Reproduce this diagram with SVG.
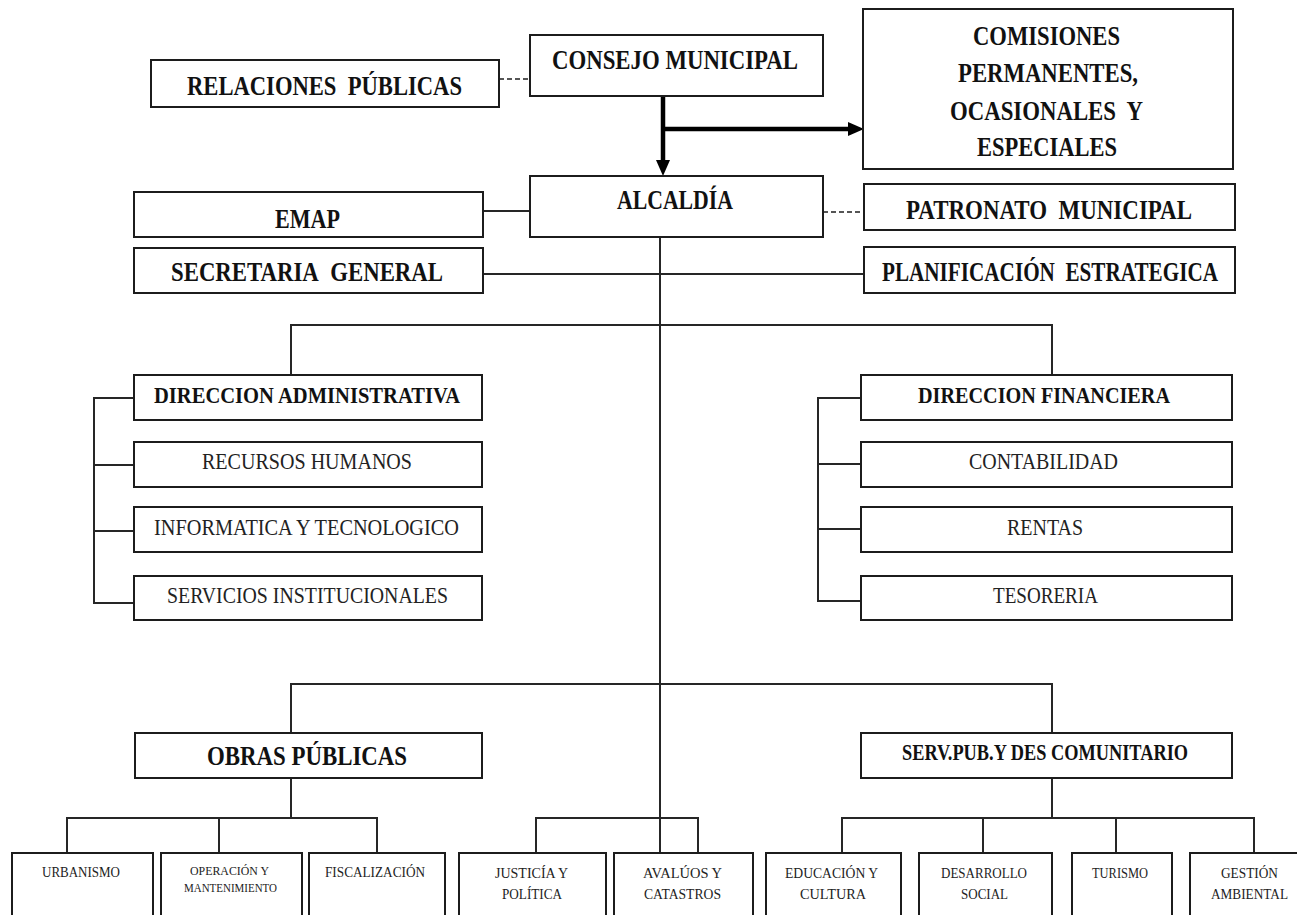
<svg xmlns="http://www.w3.org/2000/svg" width="1297" height="915" viewBox="0 0 1297 915">
  <style>
    .box { fill: #ffffff; stroke: #1c1c1c; stroke-width: 2; }
    .ln { fill: none; stroke: #262626; stroke-width: 2; }
    .dash { fill: none; stroke: #555555; stroke-width: 2; stroke-dasharray: 5 3; }
    .thick { fill: none; stroke: #000000; stroke-width: 4.5; }
    .hb { font-family: "Liberation Serif", "Times New Roman", serif; font-weight: bold; font-size: 27px; fill: #111111; text-anchor: middle; }
    .hm { font-family: "Liberation Serif", "Times New Roman", serif; font-weight: bold; font-size: 24px; fill: #111111; text-anchor: middle; }
    .nm { font-family: "Liberation Serif", "Times New Roman", serif; font-size: 24px; fill: #222222; text-anchor: middle; }
    .sm { font-family: "Liberation Serif", "Times New Roman", serif; font-size: 14px; fill: #222222; text-anchor: middle; }
    .xs { font-family: "Liberation Serif", "Times New Roman", serif; font-size: 12px; fill: #222222; text-anchor: middle; }
  </style>
  <defs>
    <marker id="head" markerUnits="userSpaceOnUse" markerWidth="18" markerHeight="16" refX="0" refY="8" orient="auto">
      <path d="M0,1 L16,8 L0,15 Z" fill="#000000"/>
    </marker>
  </defs>

  <rect width="1297" height="915" fill="#ffffff"/>

  <!-- connectors -->
  <g id="connectors">
    <!-- council to mayor and commissions -->
    <line class="thick" x1="663" y1="96" x2="663" y2="160" marker-end="url(#head)"/>
    <line class="thick" x1="661" y1="129" x2="848" y2="129" marker-end="url(#head)"/>
    <line class="dash" x1="499" y1="79" x2="530" y2="79"/>
    <line class="dash" x1="823" y1="212" x2="864" y2="212"/>
    <line class="ln" x1="483" y1="211" x2="530" y2="211"/>
    <line class="ln" x1="483" y1="274" x2="864" y2="274"/>
    <!-- main trunk -->
    <line class="ln" x1="660" y1="237" x2="660" y2="853"/>
    <!-- directions -->
    <polyline class="ln" points="291,375 291,325 1052,325 1052,375"/>
    <polyline class="ln" points="134,398 94,398 94,603 134,603"/>
    <line class="ln" x1="94" y1="465" x2="134" y2="465"/>
    <line class="ln" x1="94" y1="531" x2="134" y2="531"/>
    <polyline class="ln" points="861,398 818,398 818,601 861,601"/>
    <line class="ln" x1="818" y1="464" x2="861" y2="464"/>
    <line class="ln" x1="818" y1="529" x2="861" y2="529"/>
    <!-- operational areas -->
    <polyline class="ln" points="291,733 291,684 1052,684 1052,733"/>
    <line class="ln" x1="291" y1="778" x2="291" y2="818"/>
    <polyline class="ln" points="67,853 67,818 377,818 377,853"/>
    <line class="ln" x1="219" y1="818" x2="219" y2="853"/>
    <polyline class="ln" points="536,853 536,818 698,818 698,853"/>
    <line class="ln" x1="1052" y1="778" x2="1052" y2="818"/>
    <polyline class="ln" points="842,853 842,818 1254,818 1254,853"/>
    <line class="ln" x1="983" y1="818" x2="983" y2="853"/>
    <line class="ln" x1="1116" y1="818" x2="1116" y2="853"/>
  </g>

  <!-- top level -->
  <g id="relaciones-publicas">
    <rect class="box" x="151" y="60" width="348" height="47"/>
    <text class="hb" x="324.5" y="95" textLength="275" lengthAdjust="spacingAndGlyphs">RELACIONES&#160; PÚBLICAS</text>
  </g>
  <g id="consejo-municipal">
    <rect class="box" x="530" y="35" width="293" height="61"/>
    <text class="hb" x="675" y="69" textLength="246" lengthAdjust="spacingAndGlyphs">CONSEJO MUNICIPAL</text>
  </g>
  <g id="comisiones">
    <rect class="box" x="863" y="9" width="370" height="160"/>
    <text class="hb" x="1046.5" y="45" textLength="147" lengthAdjust="spacingAndGlyphs">COMISIONES</text>
    <text class="hb" x="1048" y="82" textLength="180" lengthAdjust="spacingAndGlyphs">PERMANENTES,</text>
    <text class="hb" x="1046.5" y="120" textLength="193" lengthAdjust="spacingAndGlyphs">OCASIONALES&#160; Y</text>
    <text class="hb" x="1047" y="156" textLength="140" lengthAdjust="spacingAndGlyphs">ESPECIALES</text>
  </g>
  <g id="alcaldia">
    <rect class="box" x="530" y="176" width="293" height="61"/>
    <text class="hb" x="675" y="209" textLength="116" lengthAdjust="spacingAndGlyphs">ALCALDÍA</text>
  </g>
  <g id="emap">
    <rect class="box" x="134" y="192" width="349" height="45"/>
    <text class="hb" x="307.5" y="228" textLength="65" lengthAdjust="spacingAndGlyphs">EMAP</text>
  </g>
  <g id="secretaria-general">
    <rect class="box" x="134" y="248" width="349" height="45"/>
    <text class="hb" x="307" y="281" textLength="272" lengthAdjust="spacingAndGlyphs">SECRETARIA&#160; GENERAL</text>
  </g>
  <g id="patronato-municipal">
    <rect class="box" x="864" y="184" width="371" height="46"/>
    <text class="hb" x="1049" y="219" textLength="286" lengthAdjust="spacingAndGlyphs">PATRONATO&#160; MUNICIPAL</text>
  </g>
  <g id="planificacion-estrategica">
    <rect class="box" x="864" y="247" width="371" height="46"/>
    <text class="hb" x="1050" y="281" font-size="23" textLength="336" lengthAdjust="spacingAndGlyphs">PLANIFICACIÓN&#160; ESTRATEGICA</text>
  </g>

  <!-- administrative direction -->
  <g id="direccion-administrativa">
    <rect class="box" x="134" y="375" width="348" height="45"/>
    <text class="hm" x="307" y="403" textLength="306" lengthAdjust="spacingAndGlyphs">DIRECCION ADMINISTRATIVA</text>
  </g>
  <g id="recursos-humanos">
    <rect class="box" x="134" y="442" width="348" height="45"/>
    <text class="nm" x="307" y="469" textLength="210" lengthAdjust="spacingAndGlyphs">RECURSOS HUMANOS</text>
  </g>
  <g id="informatica">
    <rect class="box" x="134" y="507" width="348" height="45"/>
    <text class="nm" x="306.5" y="535" textLength="305" lengthAdjust="spacingAndGlyphs">INFORMATICA Y TECNOLOGICO</text>
  </g>
  <g id="servicios-institucionales">
    <rect class="box" x="134" y="576" width="348" height="44"/>
    <text class="nm" x="307.5" y="603" textLength="281" lengthAdjust="spacingAndGlyphs">SERVICIOS INSTITUCIONALES</text>
  </g>

  <!-- financial direction -->
  <g id="direccion-financiera">
    <rect class="box" x="861" y="375" width="371" height="45"/>
    <text class="hm" x="1044" y="403" textLength="252" lengthAdjust="spacingAndGlyphs">DIRECCION FINANCIERA</text>
  </g>
  <g id="contabilidad">
    <rect class="box" x="861" y="442" width="371" height="45"/>
    <text class="nm" x="1043.5" y="469" textLength="149" lengthAdjust="spacingAndGlyphs">CONTABILIDAD</text>
  </g>
  <g id="rentas">
    <rect class="box" x="861" y="507" width="371" height="45"/>
    <text class="nm" x="1045" y="535" textLength="76" lengthAdjust="spacingAndGlyphs">RENTAS</text>
  </g>
  <g id="tesoreria">
    <rect class="box" x="861" y="576" width="371" height="44"/>
    <text class="nm" x="1045.5" y="603" textLength="105" lengthAdjust="spacingAndGlyphs">TESORERIA</text>
  </g>

  <!-- operational areas -->
  <g id="obras-publicas">
    <rect class="box" x="135" y="733" width="347" height="45"/>
    <text class="hb" x="307" y="765" textLength="200" lengthAdjust="spacingAndGlyphs">OBRAS PÚBLICAS</text>
  </g>
  <g id="serv-pub-des-comunitario">
    <rect class="box" x="861" y="733" width="371" height="45"/>
    <text class="hm" x="1045" y="760" font-size="21" textLength="286" lengthAdjust="spacingAndGlyphs">SERV.PUB.Y DES COMUNITARIO</text>
  </g>

  <!-- units -->
  <g id="urbanismo">
    <rect class="box" x="12" y="853" width="141" height="80"/>
    <text class="sm" x="81" y="877" textLength="78" lengthAdjust="spacingAndGlyphs">URBANISMO</text>
  </g>
  <g id="operacion-mantenimiento">
    <rect class="box" x="161" y="853" width="141" height="80"/>
    <text class="xs" x="229.5" y="875" textLength="79" lengthAdjust="spacingAndGlyphs">OPERACIÓN Y</text>
    <text class="xs" x="230.5" y="892" textLength="93" lengthAdjust="spacingAndGlyphs">MANTENIMIENTO</text>
  </g>
  <g id="fiscalizacion">
    <rect class="box" x="309" y="853" width="136" height="80"/>
    <text class="sm" x="375" y="877" textLength="100" lengthAdjust="spacingAndGlyphs">FISCALIZACIÓN</text>
  </g>
  <g id="justicia-politica">
    <rect class="box" x="459" y="853" width="147" height="80"/>
    <text class="sm" x="531.5" y="878" textLength="73" lengthAdjust="spacingAndGlyphs">JUSTICÍA Y</text>
    <text class="sm" x="532" y="899" textLength="60" lengthAdjust="spacingAndGlyphs">POLÍTICA</text>
  </g>
  <g id="avaluos-catastros">
    <rect class="box" x="614" y="853" width="139" height="80"/>
    <text class="sm" x="682.5" y="878" textLength="79" lengthAdjust="spacingAndGlyphs">AVALÚOS Y</text>
    <text class="sm" x="682.5" y="899" textLength="77" lengthAdjust="spacingAndGlyphs">CATASTROS</text>
  </g>
  <g id="educacion-cultura">
    <rect class="box" x="766" y="853" width="135" height="80"/>
    <text class="sm" x="831.5" y="878" textLength="93" lengthAdjust="spacingAndGlyphs">EDUCACIÓN Y</text>
    <text class="sm" x="833" y="899" textLength="66" lengthAdjust="spacingAndGlyphs">CULTURA</text>
  </g>
  <g id="desarrollo-social">
    <rect class="box" x="919" y="853" width="133" height="80"/>
    <text class="sm" x="984" y="878" textLength="86" lengthAdjust="spacingAndGlyphs">DESARROLLO</text>
    <text class="sm" x="984.5" y="899" textLength="47" lengthAdjust="spacingAndGlyphs">SOCIAL</text>
  </g>
  <g id="turismo">
    <rect class="box" x="1072" y="853" width="100" height="80"/>
    <text class="sm" x="1120" y="878" textLength="56" lengthAdjust="spacingAndGlyphs">TURISMO</text>
  </g>
  <g id="gestion-ambiental">
    <rect class="box" x="1190" y="853" width="140" height="80"/>
    <text class="sm" x="1249.5" y="878" textLength="57" lengthAdjust="spacingAndGlyphs">GESTIÓN</text>
    <text class="sm" x="1249.5" y="899" textLength="77" lengthAdjust="spacingAndGlyphs">AMBIENTAL</text>
  </g>
</svg>
